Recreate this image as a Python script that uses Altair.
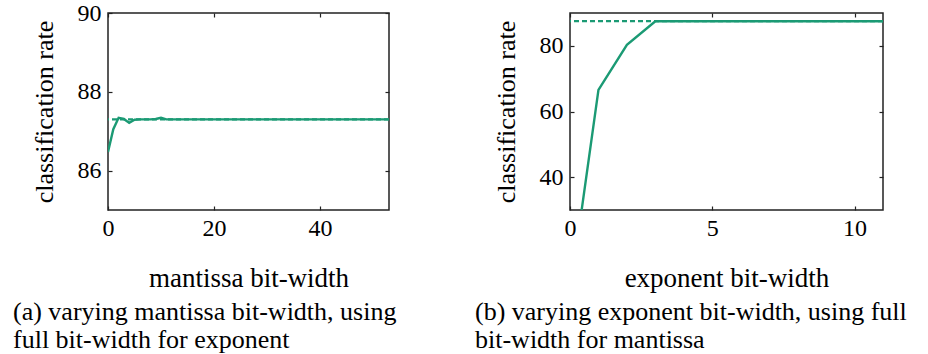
import altair as alt
import pandas as pd

# ---- data ----
mant_bits = list(range(0, 54))
mant_rate = [86.47, 87.05, 87.34, 87.31, 87.21, 87.29, 87.30, 87.30, 87.30, 87.31,
             87.34, 87.30] + [87.30] * 42
mant_ref = [87.30]

exp_bits = list(range(0, 12))
exp_rate = [4.6, 66.6, 80.3, 87.5, 87.5, 87.5, 87.5, 87.5, 87.5, 87.5, 87.5, 87.5]
exp_ref = [87.5]

mant_xticks = [0, 20, 40]
mant_yticks = [86, 88, 90]
exp_xticks = [0, 5, 10]
exp_yticks = [40, 60, 80]

cap_a = ["(a) varying mantissa bit-width, using", "full bit-width for exponent"]
cap_b = ["(b) varying exponent bit-width, using full", "bit-width for mantissa"]

COLOR = "#1b9a74"
FONT = "Liberation Serif, Times New Roman, Times, DejaVu Serif, Georgia, serif"


def deco_axis(orient, values):
    return alt.Axis(orient=orient, values=values, labels=False, domain=False, grid=False,
                    ticks=True, tickSize=4, offset=-4, tickColor="#222", tickWidth=1.2,
                    title=None)


def panel(xs_, ys_, ref, xdom, ydom, xt, yt, xtitle, ytitle, caption, w):
    df = pd.DataFrame({"x": xs_, "y": ys_})
    rdf = pd.DataFrame({"ref": ref})
    xs = alt.Scale(domain=xdom, nice=False, zero=False)
    ys = alt.Scale(domain=ydom, nice=False, zero=False)
    rule = alt.Chart(rdf).mark_rule(color=COLOR, strokeDash=[5, 3], strokeWidth=2.2).encode(
        y=alt.Y("ref:Q", scale=ys, axis=deco_axis("right", yt))
    )
    line = alt.Chart(df).mark_line(color=COLOR, strokeWidth=2.4, clip=True).encode(
        x=alt.X("x:Q", scale=xs, axis=alt.Axis(
            orient="bottom", values=xt, domain=False, grid=False, tickSize=4, offset=-4,
            tickColor="#222", tickWidth=1.2, labelFont=FONT, labelFontSize=24,
            labelColor="black", labelPadding=6, labelFlush=False, title=xtitle,
            titleFont=FONT, titleFontSize=27, titleFontWeight="normal", titleColor="black",
            titlePadding=25)),
        y=alt.Y("y:Q", scale=ys, axis=alt.Axis(
            orient="left", values=yt, domain=False, grid=False, tickSize=4, offset=-4,
            tickColor="#222", tickWidth=1.2, labelFont=FONT, labelFontSize=24,
            labelColor="black", labelPadding=7, labelFlush=False, title=ytitle,
            titleFont=FONT, titleFontSize=26, titleFontWeight="normal", titleColor="black",
            titlePadding=20)),
    )
    top = alt.Chart(df).mark_line(opacity=0, clip=True).encode(
        x=alt.X("x:Q", scale=xs, axis=deco_axis("top", xt)),
        y=alt.Y("y:Q", scale=ys, axis=None),
    )
    return alt.layer(rule, line, top).resolve_axis(x="independent", y="independent").properties(
        width=w, height=197,
        title=alt.TitleParams(text=caption, orient="bottom", anchor="start", frame="group",
                              dx=-95, offset=8, baseline="top", font=FONT, fontSize=26,
                              fontWeight="normal", color="black", lineHeight=28),
    )


left = panel(mant_bits, mant_rate, mant_ref, [0, 53], [85, 90], mant_xticks, mant_yticks,
             "mantissa bit-width", "classification rate", cap_a, 281)
right = panel(exp_bits, exp_rate, exp_ref, [0, 11], [30, 90], exp_xticks, exp_yticks,
              "exponent bit-width", "classification rate", cap_b, 313)

chart = alt.hconcat(left, right, spacing=181, bounds="flush").properties(
    padding={"left": 12, "top": 0, "right": 0, "bottom": 0}
).configure(background="white", font=FONT).configure_view(stroke="#222", strokeWidth=1.5)

chart.save("out.html", embed_options={"renderer": "svg", "actions": False})
